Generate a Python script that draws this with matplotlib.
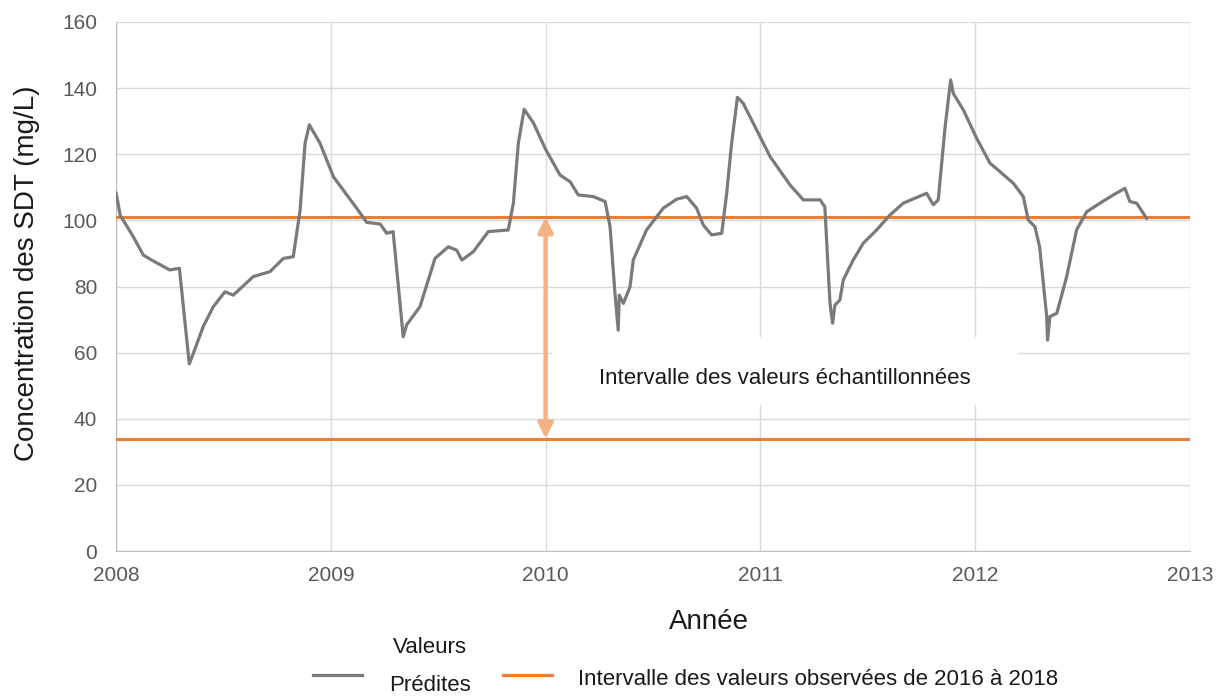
import matplotlib.pyplot as plt
from matplotlib.lines import Line2D
from matplotlib.patches import Rectangle

plt.rcParams["font.family"] = ["Liberation Sans", "DejaVu Sans"]

# decimal year / predicted TDS concentration (mg/L)
years = [
    2008.000, 2008.010, 2008.019, 2008.080, 2008.127, 2008.166, 2008.250, 2008.295,
    2008.341, 2008.360, 2008.406, 2008.453, 2008.507, 2008.546, 2008.639, 2008.717,
    2008.779, 2008.825, 2008.857, 2008.880, 2008.900, 2008.950, 2009.012, 2009.120,
    2009.167, 2009.230, 2009.260, 2009.290, 2009.337, 2009.353, 2009.415, 2009.454,
    2009.485, 2009.547, 2009.586, 2009.610, 2009.663, 2009.733, 2009.826, 2009.850,
    2009.873, 2009.900, 2009.943, 2010.000, 2010.067, 2010.114, 2010.152, 2010.222,
    2010.277, 2010.300, 2010.323, 2010.338, 2010.343, 2010.362, 2010.393, 2010.408,
    2010.470, 2010.548, 2010.610, 2010.657, 2010.703, 2010.734, 2010.773, 2010.820,
    2010.843, 2010.866, 2010.893, 2010.920, 2010.983, 2011.045, 2011.138, 2011.200,
    2011.278, 2011.300, 2011.324, 2011.336, 2011.347, 2011.370, 2011.386, 2011.432,
    2011.479, 2011.541, 2011.603, 2011.665, 2011.774, 2011.805, 2011.828, 2011.860,
    2011.886, 2011.898, 2011.945, 2012.007, 2012.069, 2012.116, 2012.178, 2012.224,
    2012.247, 2012.278, 2012.300, 2012.333, 2012.337, 2012.348, 2012.380, 2012.426,
    2012.472, 2012.519, 2012.581, 2012.643, 2012.697, 2012.720, 2012.752, 2012.798,
]
predicted = [
    108.2, 105.0, 101.6, 95.1, 89.5, 88.0, 85.0, 85.5,
    56.6, 59.8, 67.9, 73.9, 78.4, 77.4, 83.0, 84.5,
    88.5, 89.0, 103.1, 123.3, 128.9, 123.3, 113.2, 103.7,
    99.4, 98.9, 96.1, 96.6, 64.8, 68.4, 73.9, 82.0,
    88.5, 92.0, 91.0, 88.0, 90.5, 96.6, 97.1, 105.2,
    123.3, 133.6, 129.5, 121.5, 113.7, 111.7, 107.7, 107.2,
    105.7, 98.1, 77.9, 66.8, 77.4, 74.9, 79.9, 88.0,
    97.1, 103.7, 106.4, 107.2, 103.7, 98.6, 95.6, 96.1,
    108.2, 123.3, 137.2, 135.4, 127.3, 119.3, 110.7, 106.2,
    106.2, 104.1, 74.9, 68.9, 74.4, 75.9, 82.0, 88.0,
    93.1, 97.1, 101.6, 105.2, 108.2, 104.7, 106.2, 128.3,
    142.5, 138.4, 133.4, 124.8, 117.3, 114.7, 111.2, 107.2,
    100.1, 98.1, 92.0, 70.9, 63.8, 70.9, 71.9, 83.0,
    97.1, 102.6, 105.2, 107.7, 109.7, 105.7, 105.2, 100.6,
]

observed_min = 34
observed_max = 101
arrow_year = 2010
year_ticks = [2008, 2009, 2010, 2011, 2012, 2013]
y_ticks = [0, 20, 40, 60, 80, 100, 120, 140, 160]

GRAY = "#7a7a7a"
ORANGE = "#ED7D31"
LIGHT_ORANGE = "#F4B183"
TEXT = "#1a1a1a"

fig = plt.figure(figsize=(12.24, 6.96), dpi=100)
ax = fig.add_axes([0.0948, 0.2083, 0.8774, 0.7601])

ax.plot(years, predicted, color=GRAY, lw=2.3, zorder=4)
ax.axhline(observed_max, color=ORANGE, lw=2.2, zorder=3)
ax.axhline(observed_min, color=ORANGE, lw=2.2, zorder=3)

ax.annotate(
    "", xy=(arrow_year, observed_min), xytext=(arrow_year, observed_max),
    arrowprops=dict(arrowstyle="<|-|>", color=LIGHT_ORANGE, lw=3.2,
                    mutation_scale=22, shrinkA=0, shrinkB=0),
    zorder=5,
)
# white label box hiding the grid behind the annotation text
ax.add_patch(Rectangle((2010.03, 44.2), 2.17, 20.5, facecolor="white",
                       edgecolor="none", zorder=1.5))
ax.text(2011.112, 52.3, "Intervalle des valeurs échantillonnées",
        ha="center", va="center", fontsize=16, color=TEXT, zorder=2)

ax.set_xlim(2008, 2013)
ax.set_ylim(0, 160)
ax.set_xticks(year_ticks)
ax.set_xticklabels([str(y) for y in year_ticks])
ax.set_yticks(y_ticks)
ax.grid(True, color="#d9d9d9", lw=1.0, zorder=0)
ax.set_axisbelow(True)
for side in ["top", "right"]:
    ax.spines[side].set_visible(False)
ax.spines["left"].set_color("#bfbfbf")
ax.spines["bottom"].set_color("#bfbfbf")
ax.tick_params(axis="both", length=0, labelsize=15, colors="#595959")
ax.tick_params(axis="y", pad=13.5)
ax.tick_params(axis="x", pad=11)

ax.set_ylabel("Concentration des SDT (mg/L)", fontsize=20, color=TEXT)
ax.yaxis.label.set_va("center")
ax.yaxis.set_label_coords(-0.0829, 0.5246)
ax.set_xlabel("Année", fontsize=20, color=TEXT)
ax.xaxis.label.set_va("center")
ax.xaxis.set_label_coords(0.552, -0.134)

# legend, laid out by hand like the original
fig.add_artist(Line2D([0.2557, 0.2958], [0.0302, 0.0302], color=GRAY, lw=2.3,
                      transform=fig.transFigure))
fig.text(0.3513, 0.0704, "Valeurs", fontsize=16, ha="center", va="center", color=TEXT)
fig.text(0.3517, 0.0158, "Prédites", fontsize=16, ha="center", va="center", color=TEXT)
fig.add_artist(Line2D([0.411, 0.451], [0.0302, 0.0302], color=ORANGE, lw=2.3,
                      transform=fig.transFigure))
fig.text(0.4722, 0.023, "Intervalle des valeurs observées de 2016 à 2018",
         fontsize=16, ha="left", va="center", color=TEXT)

fig.savefig("out.png", dpi=100)
